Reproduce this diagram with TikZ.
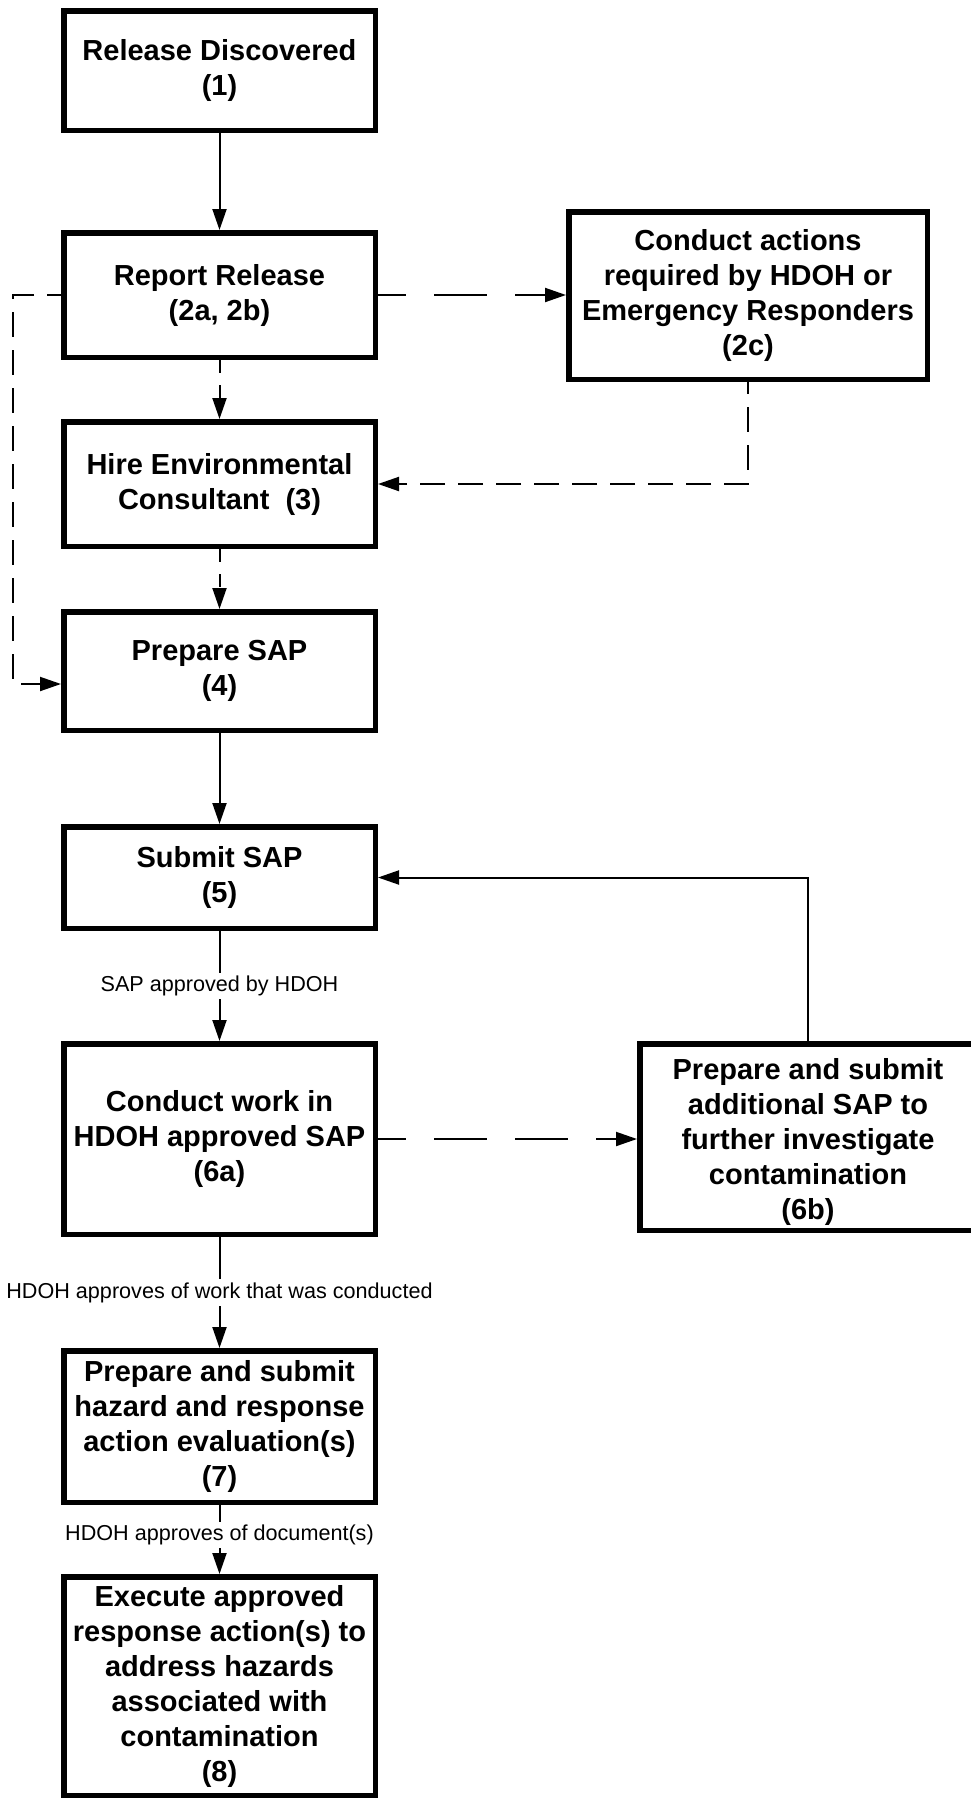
\documentclass[tikz,border=0pt]{standalone}
\usepackage{fontspec}
\setmainfont{Liberation Sans}
\usetikzlibrary{arrows.meta}
\tikzset{
  box/.style={draw, line width=5.5pt, align=center, inner sep=0pt, font=\fontsize{29}{35}\selectfont\bfseries},
  conn/.style={line width=2pt, -{Triangle[length=21pt,width=14pt]}},
  shortdash/.style={dash pattern=on 13pt off 12pt},
  middash/.style={dash pattern=on 25pt off 13pt, dash phase=13pt},
  loopdash/.style={dash pattern=on 25pt off 13pt, dash phase=11pt},
  longdash/.style={dash pattern=on 53pt off 28pt, dash phase=25pt},
  lbl/.style={fill=white, inner sep=3pt, font=\fontsize{21.6}{25}\selectfont}
}
\begin{document}
\begin{tikzpicture}[x=1pt,y=-1pt]
\useasboundingbox (0,0) rectangle (971,1799);
\node[box, minimum width=311.5pt, minimum height=119.5pt] (b1) at (219.5,70.5) {Release Discovered\\(1)};
\node[box, minimum width=311.5pt, minimum height=124.5pt] (b2) at (219.5,295) {Report Release\\(2a, 2b)};
\node[box, minimum width=358.5pt, minimum height=167.5pt] (b2c) at (748,295.5) {Conduct actions\\required by HDOH or\\Emergency Responders\\(2c)};
\node[box, minimum width=311.5pt, minimum height=124.5pt] (b3) at (219.5,484) {Hire Environmental\\Consultant\ \ (3)};
\node[box, minimum width=311.5pt, minimum height=118.5pt] (b4) at (219.5,671) {Prepare SAP\\(4)};
\node[box, minimum width=311.5pt, minimum height=101.5pt] (b5) at (219.5,877.5) {Submit SAP\\(5)};
\node[box, minimum width=311.5pt, minimum height=190.5pt] (b6a) at (219.5,1139) {Conduct work in\\HDOH approved SAP\\(6a)};
\node[box, minimum width=336.5pt, minimum height=186.5pt] (b6b) at (808,1137) {\rule{0pt}{30pt}Prepare and submit\\additional SAP to\\further investigate\\contamination\\(6b)};
\node[box, minimum width=311.5pt, minimum height=151.5pt] (b7) at (219.5,1426.5) {Prepare and submit\\hazard and response\\action evaluation(s)\\(7)};
\node[box, minimum width=311.5pt, minimum height=218.5pt] (b8) at (219.5,1686) {Execute approved\\response action(s) to\\address hazards\\associated with\\contamination\\(8)};

\draw[conn] (b1) -- (b2);
\draw[conn, shortdash] (b2) -- (b3);
\draw[conn, shortdash] (b3) -- (b4);
\draw[conn] (b4) -- (b5);
\draw[conn] (b5) -- node[lbl]{SAP approved by HDOH} (b6a);
\draw[conn] (b6a) -- node[lbl]{HDOH approves of work that was conducted} (b7);
\draw[conn] (b7) -- node[lbl, pos=0.43]{HDOH approves of document(s)} (b8);
\draw[conn, longdash] (b2.east) -- (b2.east -| b2c.west);
\draw[conn, middash] (b2c.south) |- (b3.east);
\draw[conn, loopdash] (b2.west) -- ++(-48,0) |- ([yshift=-13pt]b4.west);
\draw[conn, longdash] (b6a.east) -- (b6a.east -| b6b.west);
\draw[conn] (b6b.north) |- (b5.east);
\end{tikzpicture}
\end{document}
